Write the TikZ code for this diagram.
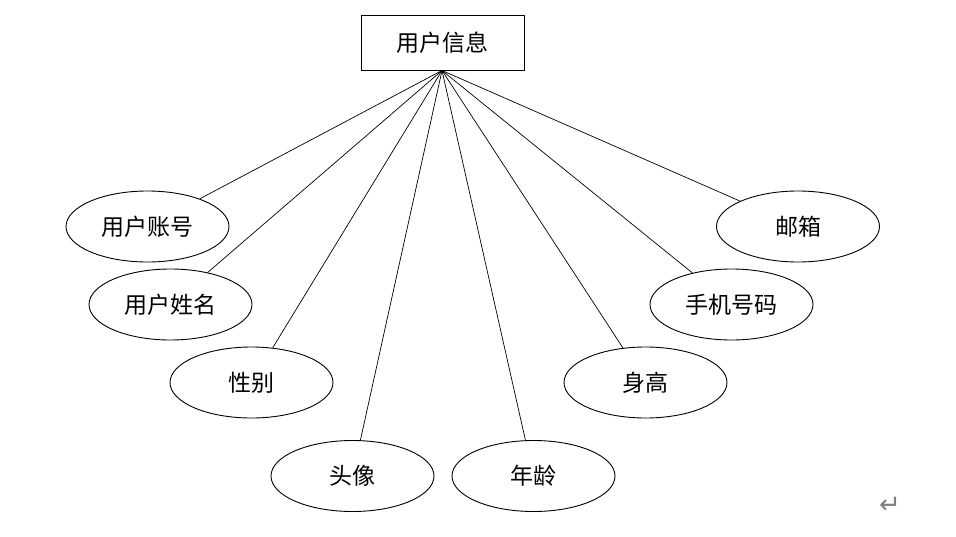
\documentclass[tikz,border=0pt]{standalone}
\usepackage{fontspec}
\newfontfamily\cjk{Noto Sans CJK SC}
\newfontfamily\symf{DejaVu Sans}
\usetikzlibrary{shapes.geometric}
\begin{document}
\begin{tikzpicture}[x=1pt,y=-1pt,
  ent/.style={draw, line width=0.9pt, minimum width=163pt, minimum height=55pt, inner sep=0pt, font=\cjk\fontsize{23}{27}\selectfont},
  attr/.style={draw, ellipse, line width=0.9pt, minimum width=163pt, minimum height=71pt, inner sep=0pt, font=\cjk\fontsize{23}{27}\selectfont},
  link/.style={line width=0.7pt}]
\useasboundingbox (0,0) rectangle (956,536);
\node[ent] (e) at (442.5,42.5) {用户信息};
\coordinate (hub) at (442,70.5);
\node[attr] (a1) at (147.5,226.5) {用户账号};
\node[attr] (a2) at (170.5,304.5) {用户姓名};
\node[attr] (a3) at (251.5,382.5) {性别};
\node[attr] (a4) at (352.5,476) {头像};
\node[attr] (a5) at (533.5,476) {年龄};
\node[attr] (a6) at (645.5,382.5) {身高};
\node[attr] (a7) at (731.5,304.5) {手机号码};
\node[attr] (a8) at (798,226.5) {邮箱};
\foreach \n in {a1,a2,a3,a4,a5,a6,a7,a8} \draw[link] (hub) -- (\n);
\node[text=gray, font=\symf\fontsize{26}{28}\selectfont] (ret) at (890,505) {↵};
\end{tikzpicture}
\end{document}
